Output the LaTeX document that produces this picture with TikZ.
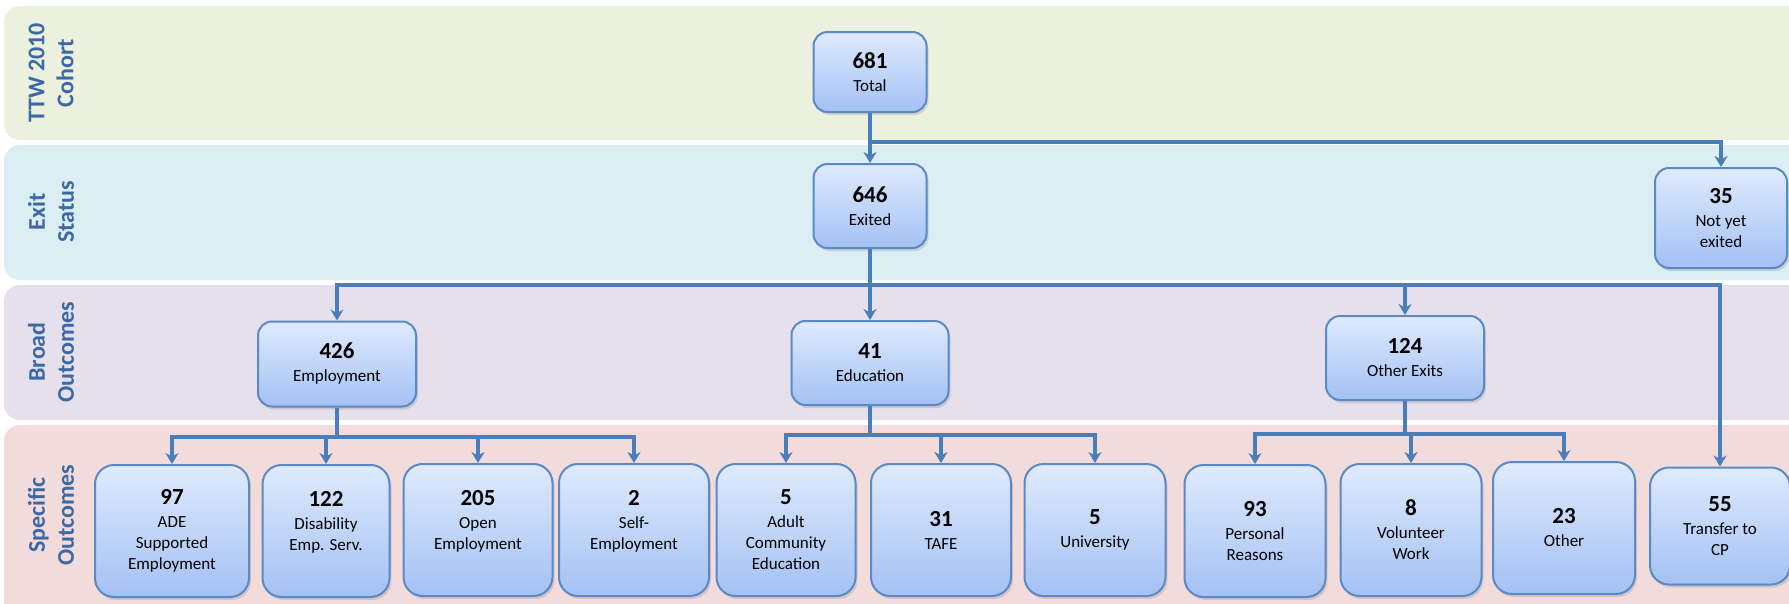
\documentclass[tikz,border=0pt]{standalone}
\usepackage{fontspec}
\setmainfont{Carlito}
\usetikzlibrary{arrows.meta}
\usetikzlibrary{shadows}
\definecolor{bandA}{HTML}{EBF1DE}
\definecolor{bandB}{HTML}{DAEEF3}
\definecolor{bandC}{HTML}{E5E0EC}
\definecolor{bandD}{HTML}{F2DCDB}
\definecolor{linea}{HTML}{4A7EBB}
\definecolor{borde}{HTML}{5A89C6}
\definecolor{rotulo}{HTML}{3C69A6}
\definecolor{cajaarriba}{HTML}{DFEAFD}
\definecolor{cajaabajo}{HTML}{A3C1F4}
\tikzset{
  banda/.style={rounded corners=16pt},
  rotulo/.style={rotate=90, align=center, text=rotulo, font=\fontsize{24}{29}\selectfont\bfseries},
  caja/.style={draw=borde, line width=2pt, rounded corners=14pt, top color=cajaarriba, bottom color=cajaabajo,
    align=center, inner sep=0pt, font=\fontsize{17}{21}\selectfont,
    drop shadow={opacity=0.25, shadow xshift=2pt, shadow yshift=-3pt}},
  espec/.style={caja, rounded corners=19pt, minimum height=132pt},
  conn/.style={draw=linea, line width=3.2pt, -{Stealth[length=11pt,width=13pt]}},
}
\newcommand{\cifra}[1]{{\fontsize{23}{27}\selectfont\bfseries #1}}

\begin{document}
\begin{tikzpicture}[x=1pt,y=-1pt]
          \useasboundingbox (0,0) rectangle (1789,603);
          \clip (0,0) rectangle (1789,603);
          \fill[white] (0,0) rectangle (1789,603);
          %bands
          \fill[bandA, banda] (4,6) rectangle (1830,140);
          \fill[bandB, banda] (4,145) rectangle (1830,280);
          \fill[bandC, banda] (4,285) rectangle (1830,420);
          \fill[bandD, banda] (4,425) rectangle (1830,640);
          \node[rotulo] (lcohort) at (51,73) {TTW 2010\\Cohort};
          \node[rotulo] (lexit) at (51,212) {Exit\\Status};
          \node[rotulo] (lbroad) at (51,352) {Broad\\Outcomes};
          \node[rotulo] (lspecific) at (51,515) {Specific\\Outcomes};
          %cohort and exit status
          \node[caja, minimum width=113pt, minimum height=80pt] (total) at (870,72) {\cifra{681}\\[2pt]Total};
          \node[caja, minimum width=113pt, minimum height=84pt] (exited) at (870,206) {\cifra{646}\\[2pt]Exited};
          \node[caja, minimum width=132pt, minimum height=100pt] (notyet) at (1721,218) {\cifra{35}\\[2pt]Not yet\\exited};
          %broad outcomes
          \node[caja, minimum width=158pt, minimum height=85pt] (employ) at (337,364) {\cifra{426}\\[2pt]Employment};
          \node[caja, minimum width=157pt, minimum height=84pt] (educ) at (870,363) {\cifra{41}\\[2pt]Education};
          \node[caja, minimum width=158pt, minimum height=84pt] (othex) at (1405,358) {\cifra{124}\\[2pt]Other Exits};
          %specific outcomes
          \node[espec, minimum width=154pt] (ade) at (172,531) {\cifra{97}\\[2pt]ADE\\Supported\\Employment};
          \node[espec, minimum width=127pt] (des) at (326,531) {\cifra{122}\\[2pt]Disability\\Emp. Serv.\\[0pt]};
          \node[espec, minimum width=149pt] (open) at (478,530) {\cifra{205}\\[2pt]Open\\Employment\\[0pt]};
          \node[espec, minimum width=150pt] (self) at (634,530) {\cifra{2}\\[2pt]Self-\\Employment\\[0pt]};
          \node[espec, minimum width=139pt] (ace) at (786,530) {\cifra{5}\\[2pt]Adult\\Community\\Education};
          \node[espec, minimum width=140pt] (tafe) at (941,530) {\cifra{31}\\[2pt]TAFE};
          \node[espec, minimum width=141pt] (uni) at (1095,530) {\cifra{5}\\[2pt]University};
          \node[espec, minimum width=141pt] (pers) at (1255,531) {\cifra{93}\\[2pt]Personal\\Reasons};
          \node[espec, minimum width=141pt] (vol) at (1411,530) {\cifra{8}\\[2pt]Volunteer\\Work};
          \node[espec, minimum width=142pt] (other) at (1564,528) {\cifra{23}\\[2pt]Other};
          \node[espec, minimum width=140pt, minimum height=117pt] (cp) at (1720,526) {\cifra{55}\\[2pt]Transfer to\\CP};
          %connectors
          \coordinate (j1) at (870,142);
          \coordinate (j2) at (870,285);
          \coordinate (j3) at (337,437);
          \coordinate (j4) at (870,435);
          \coordinate (j5) at (1405,434);
          \draw[conn,-] (total) -- (j1);
          \draw[conn] (j1) -- (exited);
          \draw[conn] (j1) -| (notyet);
          \draw[conn,-] (exited) -- (j2);
          \draw[conn] (j2) -| (employ);
          \draw[conn] (j2) -- (educ);
          \draw[conn] (j2) -| (othex);
          \draw[conn] (j2) -| (cp);
          \draw[conn,-] (employ) -- (j3);
          \draw[conn] (j3) -| (ade);
          \draw[conn] (j3) -| (des);
          \draw[conn] (j3) -| (open);
          \draw[conn] (j3) -| (self);
          \draw[conn,-] (educ) -- (j4);
          \draw[conn] (j4) -| (ace);
          \draw[conn] (j4) -| (tafe);
          \draw[conn] (j4) -| (uni);
          \draw[conn,-] (othex) -- (j5);
          \draw[conn] (j5) -| (pers);
          \draw[conn] (j5) -| (vol);
          \draw[conn] (j5) -| (other);
\end{tikzpicture}
\end{document}
